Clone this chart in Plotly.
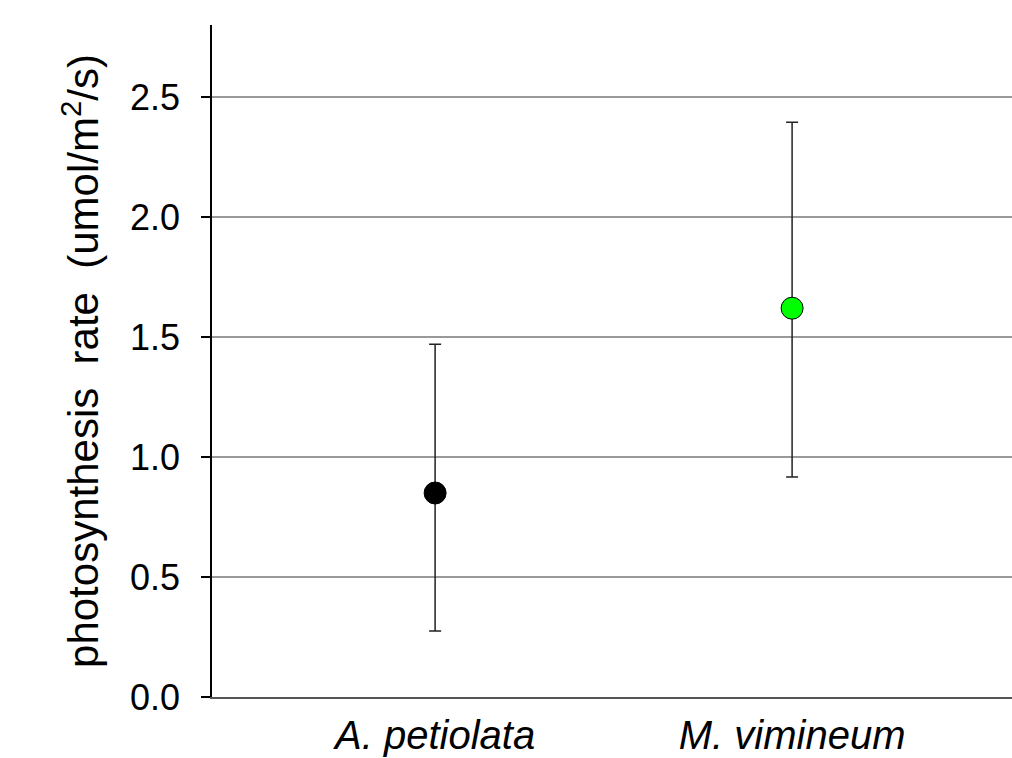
import plotly.graph_objects as go

species = ["A. petiolata", "M. vimineum"]
means = [0.85, 1.62]
upper = [1.47, 2.395]
lower = [0.275, 0.917]
colors = ["#000000", "#00ff00"]
y_ticks = [0.0, 0.5, 1.0, 1.5, 2.0, 2.5]
y_tick_text = ["0.0", "0.5", "1.0", "1.5", "2.0", "2.5"]

fig = go.Figure()
for i, sp in enumerate(species):
    fig.add_trace(go.Scatter(
        x=[i], y=[means[i]], mode="markers",
        marker=dict(size=22, color=colors[i], line=dict(color="#000000", width=1)),
        error_y=dict(type="data", symmetric=False,
                     array=[upper[i] - means[i]], arrayminus=[means[i] - lower[i]],
                     color="#222222", thickness=1.5, width=6),
        showlegend=False, cliponaxis=False,
    ))

font = "Liberation Sans, Arial, sans-serif"
fig.update_layout(
    width=1012, height=758,
    margin=dict(l=212, r=0, t=25, b=61),
    paper_bgcolor="white", plot_bgcolor="white",
    font=dict(family=font, color="black"),
    xaxis=dict(
        range=[-0.625, 1.616],
        tickmode="array", tickvals=[0, 1],
        ticktext=["<i>" + s + "</i>" for s in species],
        tickfont=dict(size=40, family=font),
        showgrid=False, zeroline=False,
        showline=True, linecolor="#555555", linewidth=2,
        ticks="", ticklabelstandoff=2, automargin=False,
    ),
    yaxis=dict(
        range=[0, 2.8],
        tickmode="array", tickvals=y_ticks, ticktext=y_tick_text,
        tickfont=dict(size=36, family=font),
        showgrid=True, gridcolor="#999999", gridwidth=1.5,
        zeroline=False,
        showline=True, linecolor="#000000", linewidth=1.5,
        ticks="outside", ticklen=9, tickcolor="#000000", tickwidth=1.5,
        ticklabelstandoff=14, automargin=False,
        title=dict(text="photosynthesis&nbsp; rate&nbsp; (umol/m<sup>2</sup>/s)",
                   font=dict(size=42, family=font), standoff=18),
    ),
)

fig.write_html(
    "out.html",
    config={"displayModeBar": False},
    post_script=(
        "document.documentElement.style.overflow='hidden';"
        "document.body.style.margin='0';"
        "document.body.style.overflow='hidden';"
    ),
)
